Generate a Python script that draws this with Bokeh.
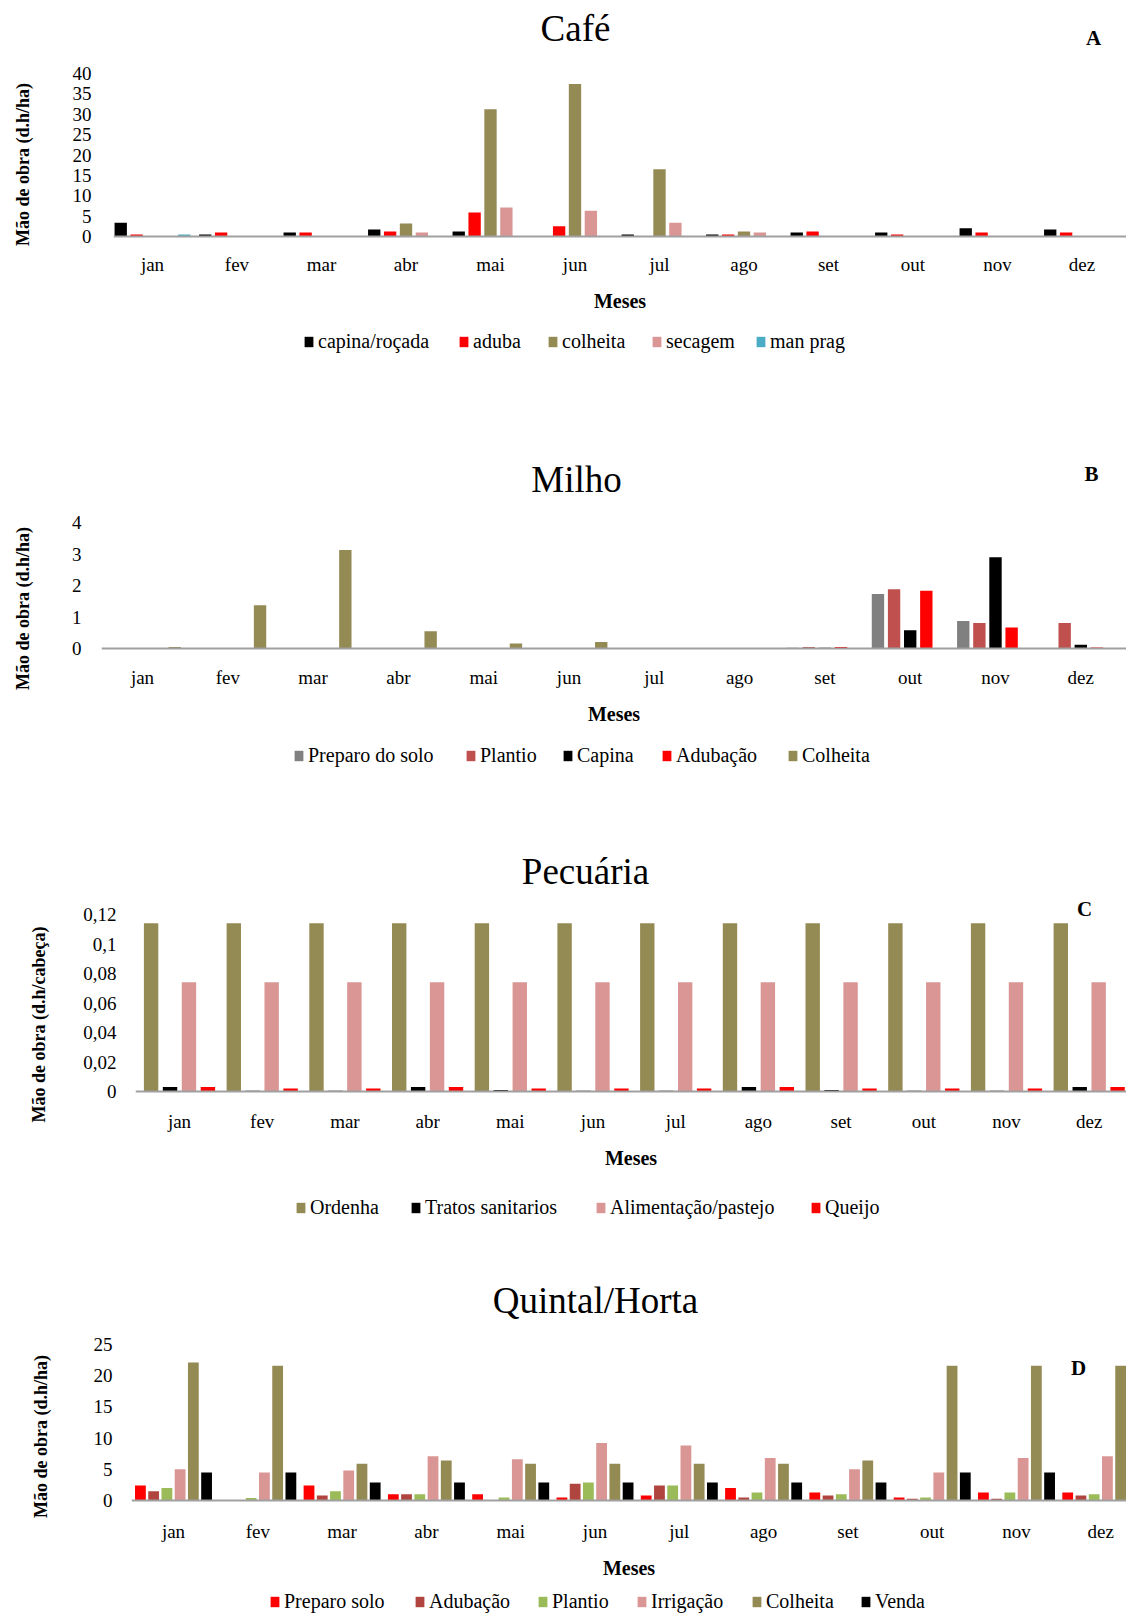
from bokeh.plotting import figure
from bokeh.models import (ColumnDataSource, FixedTicker, Label, Legend, LegendItem,
                          CustomJSTickFormatter, Range1d, Span)
from bokeh.transform import dodge
from bokeh.embed import file_html
from bokeh.resources import INLINE

FONT = "Liberation Serif"
W = 1126

months = ["jan", "fev", "mar", "abr", "mai", "jun", "jul", "ago", "set", "out", "nov", "dez"]

# ---------------- A: Café ----------------
cafe_names = ["capina/roçada", "aduba", "colheita", "secagem", "man prag"]
cafe_capina = [3.4, 0.5, 1.0, 1.7, 1.2, 0.0, 0.5, 0.5, 1.0, 1.0, 2.0, 1.7]
cafe_aduba = [0.5, 1.0, 1.0, 1.2, 5.9, 2.5, 0.0, 0.5, 1.2, 0.5, 1.0, 1.0]
cafe_colheita = [0, 0, 0, 3.2, 31.2, 37.4, 16.5, 1.2, 0, 0, 0, 0]
cafe_secagem = [0, 0, 0, 1.0, 7.1, 6.3, 3.4, 1.0, 0, 0, 0, 0]
cafe_manprag = [0.5, 0, 0, 0, 0, 0, 0, 0, 0, 0, 0, 0]
cafe_colors = ["#000000", "#FF0000", "#948A54", "#D99694", "#4BACC6"]
cafe_yticks = [0, 5, 10, 15, 20, 25, 30, 35, 40]

# ---------------- B: Milho ----------------
milho_names = ["Preparo do solo", "Plantio", "Capina", "Adubação", "Colheita"]
milho_preparo = [0, 0, 0, 0, 0, 0, 0, 0, 0.02, 1.73, 0.87, 0]
milho_plantio = [0, 0, 0, 0, 0, 0, 0, 0, 0.05, 1.88, 0.81, 0.81]
milho_capina = [0, 0, 0, 0, 0, 0, 0, 0, 0.02, 0.58, 2.90, 0.12]
milho_adubacao = [0, 0, 0, 0, 0, 0, 0, 0, 0.05, 1.83, 0.67, 0.03]
milho_colheita = [0.05, 1.37, 3.13, 0.55, 0.16, 0.21, 0, 0, 0, 0, 0, 0]
milho_colors = ["#808080", "#C0504D", "#000000", "#FF0000", "#948A54"]
milho_yticks = [0, 1, 2, 3, 4]

# ---------------- C: Pecuária ----------------
pec_names = ["Ordenha", "Tratos sanitarios", "Alimentação/pastejo", "Queijo"]
pec_ordenha = [0.114, 0.114, 0.114, 0.114, 0.114, 0.114, 0.114, 0.114, 0.114, 0.114, 0.114, 0.114]
pec_tratos = [0.003, 0.0005, 0.0005, 0.003, 0.001, 0.0005, 0.0005, 0.003, 0.001, 0.0005, 0.0005, 0.003]
pec_alim = [0.074, 0.074, 0.074, 0.074, 0.074, 0.074, 0.074, 0.074, 0.074, 0.074, 0.074, 0.074]
pec_queijo = [0.003, 0.002, 0.002, 0.003, 0.002, 0.002, 0.002, 0.003, 0.002, 0.002, 0.002, 0.003]
pec_colors = ["#948A54", "#000000", "#D99694", "#FF0000"]
pec_yticks = [0, 0.02, 0.04, 0.06, 0.08, 0.1, 0.12]

# ---------------- D: Quintal/Horta ----------------
qh_names = ["Preparo solo", "Adubação", "Plantio", "Irrigação", "Colheita", "Venda"]
qh_preparo = [2.4, 0.1, 2.4, 1.0, 1.0, 0.5, 0.8, 2.0, 1.3, 0.5, 1.3, 1.3]
qh_adubacao = [1.5, 0.1, 0.8, 1.0, 0.1, 2.7, 2.4, 0.5, 0.8, 0.3, 0.3, 0.8]
qh_plantio = [2.0, 0.4, 1.5, 1.0, 0.5, 2.9, 2.4, 1.3, 1.0, 0.5, 1.3, 1.0]
qh_irrigacao = [5.0, 4.5, 4.8, 7.1, 6.6, 9.2, 8.8, 6.8, 5.0, 4.5, 6.8, 7.1]
qh_colheita = [22.1, 21.6, 5.9, 6.4, 5.9, 5.9, 5.9, 5.9, 6.4, 21.6, 21.6, 21.6]
qh_venda = [4.5, 4.5, 2.9, 2.9, 2.9, 2.9, 2.9, 2.9, 2.9, 4.5, 4.5, 4.5]
qh_colors = ["#FF0000", "#B0443F", "#9BBB59", "#D99694", "#948A54", "#000000"]
qh_yticks = [0, 5, 10, 15, 20, 25]


def blank_fig(h, x0=0):
    p = figure(width=W, height=h, title=None, x_range=Range1d(x0, x0 + W),
               y_range=Range1d(0, h), x_axis_type=None, y_axis_type=None,
               output_backend="svg", toolbar_location=None, min_border=0)
    p.min_border_left = p.min_border_right = p.min_border_top = p.min_border_bottom = 0
    p.outline_line_color = None
    p.grid.visible = False
    return p


def letter_label(x, y, text):
    return Label(x=x, y=y, text=text, text_font=FONT, text_font_size="21px",
                 text_font_style="bold", text_align="center",
                 text_baseline="middle", text_color="#000000")


def build(cfg):
    c0, c1 = cfg["chart_band"]
    t0 = cfg["top"]

    # ---- title strip ----
    tp = blank_fig(c0 - t0)
    tx, ty = cfg["title_pos"]
    tp.add_layout(Label(x=tx, y=c0 - ty, text=cfg["title"], text_font=FONT,
                        text_font_size="37px", text_align="center",
                        text_baseline="middle", text_color="#000000"))
    lx, ly = cfg["letter_pos"]
    if cfg["letter_in_title"]:
        tp.add_layout(letter_label(lx, c0 - ly, cfg["letter"]))

    # ---- chart ----
    ft, base, fl = cfg["frame_top"], cfg["baseline"], cfg["frame_left"]
    tick_top = cfg["tick_top"]
    # the frame reaches below the zero line so that the vertical axis title
    # (centred on the frame) sits where it is in the original
    fbot = 2 * cfg["ylabel_y"] - ft
    cat = cfg["cat_px"]
    x_start = -(cfg["jan_x"] - fl) / cat
    x_end = x_start + (W - fl) / cat
    unit = cfg["y_end"] / (base - tick_top)
    y_top = (base - ft) * unit
    y_bot = -(fbot - base) * unit

    p = figure(width=W, height=c1 - c0, title=None,
               x_range=Range1d(x_start, x_end), y_range=Range1d(y_bot, y_top),
               output_backend="svg", toolbar_location=None,
               min_border_left=fl, min_border_right=0,
               min_border_top=ft - c0, min_border_bottom=c1 - fbot)
    p.outline_line_color = None
    p.xgrid.visible = False
    p.ygrid.visible = False

    data = {"x": list(range(12))}
    keys = []
    for i, vals in enumerate(cfg["values"]):
        k = "s%d" % i
        data[k] = vals
        keys.append(k)
    src = ColumnDataSource(data)
    n = len(keys)
    for i, k in enumerate(keys):
        off = (i - (n - 1) / 2.0) * cfg["slot"]
        p.vbar(x=dodge("x", off), top=k, bottom=0, width=cfg["bar_w"], source=src,
               fill_color=cfg["colors"][i], line_color=None)

    # category axis line at zero
    p.add_layout(Span(location=0, dimension="width", line_color="#A0A0A0", line_width=2))

    xa = p.xaxis[0]
    xa.ticker = FixedTicker(ticks=list(range(12)))
    xa.major_label_overrides = {i: m for i, m in enumerate(months)}
    xa.major_tick_out = 0
    xa.major_tick_in = 0
    xa.minor_tick_out = 0
    xa.minor_tick_in = 0
    xa.axis_line_color = None
    xa.major_label_standoff = base + cfg["xlab_standoff"] - fbot
    xa.major_label_text_font = FONT
    xa.major_label_text_font_size = "19px"
    xa.major_label_text_color = "#000000"
    xa.axis_label = "Meses"
    xa.axis_label_text_font = FONT
    xa.axis_label_text_font_style = "bold"
    xa.axis_label_text_font_size = "20px"
    xa.axis_label_text_color = "#000000"
    xa.axis_label_standoff = cfg["meses_standoff"]

    ya = p.yaxis[0]
    ya.ticker = FixedTicker(ticks=cfg["yticks"])
    if cfg.get("comma"):
        ya.formatter = CustomJSTickFormatter(code="""
            var s = tick.toFixed(2);
            s = s.replace(/0+$/, '').replace(/\\.$/, '');
            return s.replace('.', ',');
        """)
    ya.major_tick_out = 0
    ya.major_tick_in = 0
    ya.minor_tick_out = 0
    ya.minor_tick_in = 0
    ya.axis_line_color = None
    ya.major_label_standoff = cfg["ylab_standoff"]
    ya.major_label_text_font = FONT
    ya.major_label_text_font_size = "19px"
    ya.major_label_text_color = "#000000"
    ya.axis_label = cfg["ylabel"]
    ya.axis_label_text_font = FONT
    ya.axis_label_text_font_style = "bold"
    ya.axis_label_text_font_size = "18px"
    ya.axis_label_text_color = "#000000"
    ya.axis_label_standoff = cfg["ylabel_standoff"]

    if not cfg["letter_in_title"]:
        p.add_layout(letter_label(x_start + (lx - fl) / cat, (base - ly) * unit, cfg["letter"]))

    # ---- legend strip (swatches from the same series, bars kept off-range) ----
    l0, l1 = c1, cfg["bottom"]
    lp = blank_fig(l1 - l0, x0=-5000)
    yc = cfg["legend_y"] - l0
    for i, k in enumerate(keys):
        r = lp.vbar(x="x", top=k, width=0.1, source=src,
                    fill_color=cfg["colors"][i], line_color=None)
        lg = Legend(items=[LegendItem(label=cfg["names"][i], renderers=[r])],
                    location=(cfg["legend_x"][i], (l1 - l0) - yc - 10),
                    orientation="horizontal", glyph_width=11, glyph_height=13,
                    label_standoff=4, padding=0, margin=0, spacing=0,
                    border_line_color=None, background_fill_alpha=0,
                    label_text_font=FONT, label_text_font_size="20px",
                    label_text_color="#000000", label_height=20)
        lp.add_layout(lg)
    return [tp, p, lp]


cfgA = dict(top=0, chart_band=(58, 320), bottom=400,
            frame_top=73, tick_top=73, baseline=236, frame_left=113, ylabel_y=164,
            cat_px=84.5, jan_x=152, slot=0.188, bar_w=0.146, y_end=40,
            yticks=cafe_yticks, names=cafe_names,
            values=[cafe_capina, cafe_aduba, cafe_colheita, cafe_secagem, cafe_manprag],
            colors=cafe_colors, ylabel="Mão de obra (d.h/ha)", ylab_standoff=22,
            ylabel_standoff=37, xlab_standoff=17, meses_standoff=12,
            title="Café", title_pos=(575, 28), letter="A", letter_pos=(1093, 37),
            letter_in_title=True,
            legend_x=[303, 458, 547, 651, 755], legend_y=343)

cfgB = dict(top=400, chart_band=(503, 740), bottom=820,
            frame_top=522, tick_top=522, baseline=648, frame_left=101, ylabel_y=608,
            cat_px=85.3, jan_x=142, slot=0.189, bar_w=0.145, y_end=4,
            yticks=milho_yticks, names=milho_names,
            values=[milho_preparo, milho_plantio, milho_capina, milho_adubacao, milho_colheita],
            colors=milho_colors, ylabel="Mão de obra (d.h/ha)", ylab_standoff=20,
            ylabel_standoff=36, xlab_standoff=18, meses_standoff=12,
            title="Milho", title_pos=(576, 479), letter="B", letter_pos=(1091, 473),
            letter_in_title=True,
            legend_x=[293, 465, 562, 661, 787], legend_y=757)

cfgC = dict(top=820, chart_band=(893, 1180), bottom=1240,
            frame_top=897, tick_top=914, baseline=1091, frame_left=135, ylabel_y=1024,
            cat_px=82.7, jan_x=179, slot=0.229, bar_w=0.174, y_end=0.12,
            yticks=pec_yticks, names=pec_names, comma=True,
            values=[pec_ordenha, pec_tratos, pec_alim, pec_queijo],
            colors=pec_colors, ylabel="Mão de obra (d.h/cabeça)", ylab_standoff=19,
            ylabel_standoff=31, xlab_standoff=19, meses_standoff=12,
            title="Pecuária", title_pos=(585, 871), letter="C", letter_pos=(1084, 908),
            letter_in_title=False,
            legend_x=[295, 410, 595, 810], legend_y=1209)

cfgD = dict(top=1240, chart_band=(1328, 1585), bottom=1613,
            frame_top=1344, tick_top=1344, baseline=1500, frame_left=131, ylabel_y=1436,
            cat_px=84.3, jan_x=173, slot=0.157, bar_w=0.128, y_end=25,
            yticks=qh_yticks, names=qh_names,
            values=[qh_preparo, qh_adubacao, qh_plantio, qh_irrigacao, qh_colheita, qh_venda],
            colors=qh_colors, ylabel="Mão de obra (d.h/ha)", ylab_standoff=19,
            ylabel_standoff=40, xlab_standoff=20, meses_standoff=12,
            title="Quintal/Horta", title_pos=(595, 1300), letter="D", letter_pos=(1078, 1367),
            letter_in_title=False,
            legend_x=[269, 414, 537, 636, 751, 860], legend_y=1603)

figs = []
for c in (cfgA, cfgB, cfgC, cfgD):
    figs.extend(build(c))

open("out.html", "w").write(file_html(figs, INLINE))
